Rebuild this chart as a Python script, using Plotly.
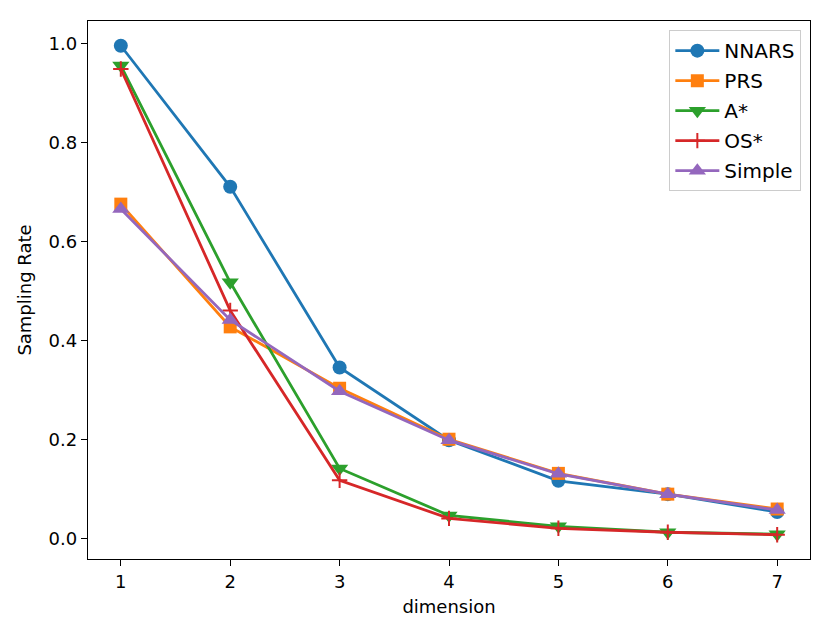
import plotly.graph_objects as go

dims = [1, 2, 3, 4, 5, 6, 7]

nnars = [0.995, 0.710, 0.345, 0.198, 0.116, 0.089, 0.053]
prs = [0.675, 0.427, 0.303, 0.200, 0.131, 0.089, 0.059]
a_star = [0.955, 0.517, 0.141, 0.046, 0.024, 0.012, 0.008]
os_star = [0.948, 0.460, 0.117, 0.040, 0.020, 0.012, 0.007]
simple = [0.665, 0.441, 0.297, 0.198, 0.130, 0.089, 0.057]

series = [
    ("NNARS", nnars, "#1f77b4", "circle", 14),
    ("PRS", prs, "#ff7f0e", "square", 13),
    ("A*", a_star, "#2ca02c", "triangle-down", 15),
    ("OS*", os_star, "#d62728", "cross-thin", 11),
    ("Simple", simple, "#9467bd", "triangle-up", 15),
]

fig = go.Figure()
for name, vals, col, sym, sz in series:
    fig.add_trace(go.Scatter(
        x=dims, y=vals, name=name, mode="lines+markers",
        legendgroup=name,
        line=dict(color=col, width=2.8),
        marker=dict(symbol=sym, size=sz, color=col,
                    line=dict(color=col, width=2 if sym == "cross-thin" else 0)),
    ))

axis_common = dict(
    showline=True, linecolor="black", linewidth=1.3, mirror=True,
    ticks="outside", ticklen=6, tickwidth=1.3, tickcolor="black",
    showgrid=False, zeroline=False, automargin=False,
    tickfont=dict(size=18, color="black"),
)

# page body adds ~8px offset, margins compensate
fig.update_layout(
    width=830, height=637,
    margin=dict(l=80, r=28, t=13, b=86),
    plot_bgcolor="white", paper_bgcolor="white",
    font=dict(family="DejaVu Sans", size=18, color="black"),
    xaxis=dict(range=[0.7, 7.3], tickvals=dims,
               title=dict(text="dimension", font=dict(size=18), standoff=9),
               **axis_common),
    yaxis=dict(range=[-0.042, 1.045], tickvals=[0, 0.2, 0.4, 0.6, 0.8, 1.0],
               tickformat=".1f",
               title=dict(text="Sampling Rate", font=dict(size=18), standoff=12),
               **axis_common),
    legend=dict(x=0.988, y=0.983, xanchor="right", yanchor="top",
                bgcolor="white", bordercolor="#cccccc", borderwidth=1,
                font=dict(size=20), tracegroupgap=1, itemwidth=44),
)

fig.write_html("out.html")
